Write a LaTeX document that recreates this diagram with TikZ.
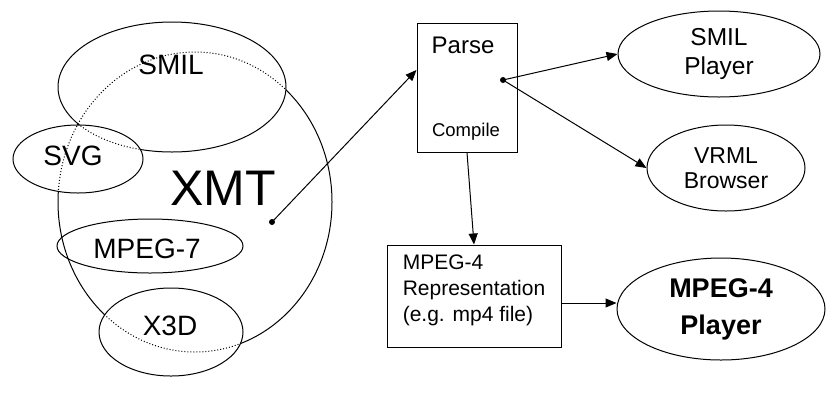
\documentclass[tikz,border=0pt]{standalone}
\usepackage{fontspec}
\setmainfont{Liberation Sans}
\usetikzlibrary{arrows.meta,positioning,shapes.geometric}

% outlines of the XMT ball and its slices
\newcommand{\xmtshape}{(195,202) ellipse [x radius=137pt, y radius=150pt]}
\newcommand{\smilshape}{(172,87) ellipse [x radius=114pt, y radius=65pt]}
\newcommand{\svgshape}{(78,159) ellipse [x radius=65pt, y radius=34pt]}
\newcommand{\mpegshape}{(150,246) ellipse [x radius=93pt, y radius=27pt]}
\newcommand{\xtdshape}{(171,332) ellipse [x radius=72pt, y radius=44pt]}

\begin{document}
\begin{tikzpicture}[x=1pt,y=-1pt, line width=1pt,
    hidden/.style={dash pattern=on 1pt off 2pt},
    arr/.style={-{Triangle[length=11pt,width=9pt]}},
    box/.style={draw, rectangle, inner sep=0pt},
    oval/.style={draw, ellipse, inner sep=0pt, align=center}]
    \useasboundingbox (0,0) rectangle (826,392);

    % XMT ball
    \draw \xmtshape;
    \fill[white] \smilshape;
    \begin{scope}
        \clip \smilshape;
        \draw[hidden] \xmtshape;
    \end{scope}
    \draw \smilshape;
    \fill[white] \svgshape;
    \begin{scope}
        \clip \svgshape;
        \draw[hidden] \xmtshape;
        \draw[hidden] \smilshape;
    \end{scope}
    \draw \svgshape;
    \draw \mpegshape;
    \fill[white] \xtdshape;
    \begin{scope}
        \clip \xtdshape;
        \draw[hidden] \xmtshape;
    \end{scope}
    \draw \xtdshape;

    \node[font=\fontsize{28}{32}\selectfont, anchor=base] (smil) at (171,74) {SMIL};
    \node[font=\fontsize{28}{32}\selectfont, anchor=base] (svg) at (73,165) {SVG};
    \node[font=\fontsize{28}{32}\selectfont, anchor=base] (mpegseven) at (147,258) {MPEG-7};
    \node[font=\fontsize{28}{32}\selectfont, anchor=base] (xtd) at (170,335) {X3D};
    \node[font=\fontsize{50}{56}\selectfont, anchor=base] (xmt) at (223,205) {XMT};
    \coordinate (xmtdot) at (272,222);

    % tools
    \node[box, minimum width=100pt, minimum height=129pt] (parse) at (467,87.5) {};
    \node[font=\fontsize{24}{28}\selectfont, anchor=base] (parsetxt) at (463,53) {Parse};
    \node[font=\fontsize{18.5}{22}\selectfont, anchor=base] (compiletxt) at (466,136) {Compile};
    \coordinate (parsedot) at (503,80);

    \node[oval, minimum width=202pt, minimum height=86pt,
          font=\fontsize{24.5}{29}\selectfont] (smilplayer) at (719,54) {SMIL\\Player};
    \node[oval, minimum width=158pt, minimum height=86pt,
          font=\fontsize{23}{25}\selectfont] (vrml) at (726,168) {VRML\\Browser};
    \node[box, minimum width=174pt, minimum height=102pt] (repr) at (474,296) {};
    \node[align=left, font=\fontsize{21}{26}\selectfont] (reprtxt) at (474,290)
        {MPEG-4\\Representation\\(e.g. mp4 file)};
    \node[oval, minimum width=208pt, minimum height=102pt,
          font=\bfseries\fontsize{27}{37}\selectfont] (mpfourplayer) at (721,309) {MPEG-4\\Player};

    % connectors
    \fill (xmtdot) circle (3pt);
    \fill (parsedot) circle (3pt);
    \draw[arr] (xmtdot) -- ([yshift=17.5pt]parse.west);
    \draw[arr] (parsedot) -- (smilplayer.west);
    \draw[arr] (parsedot) -- (vrml.west);
    \draw[arr] (parse.south) -- (repr.north);
    \draw[arr] ([yshift=-7pt]repr.east) -- ([yshift=-7pt]repr.east -| mpfourplayer.west);

\end{tikzpicture}
\end{document}
